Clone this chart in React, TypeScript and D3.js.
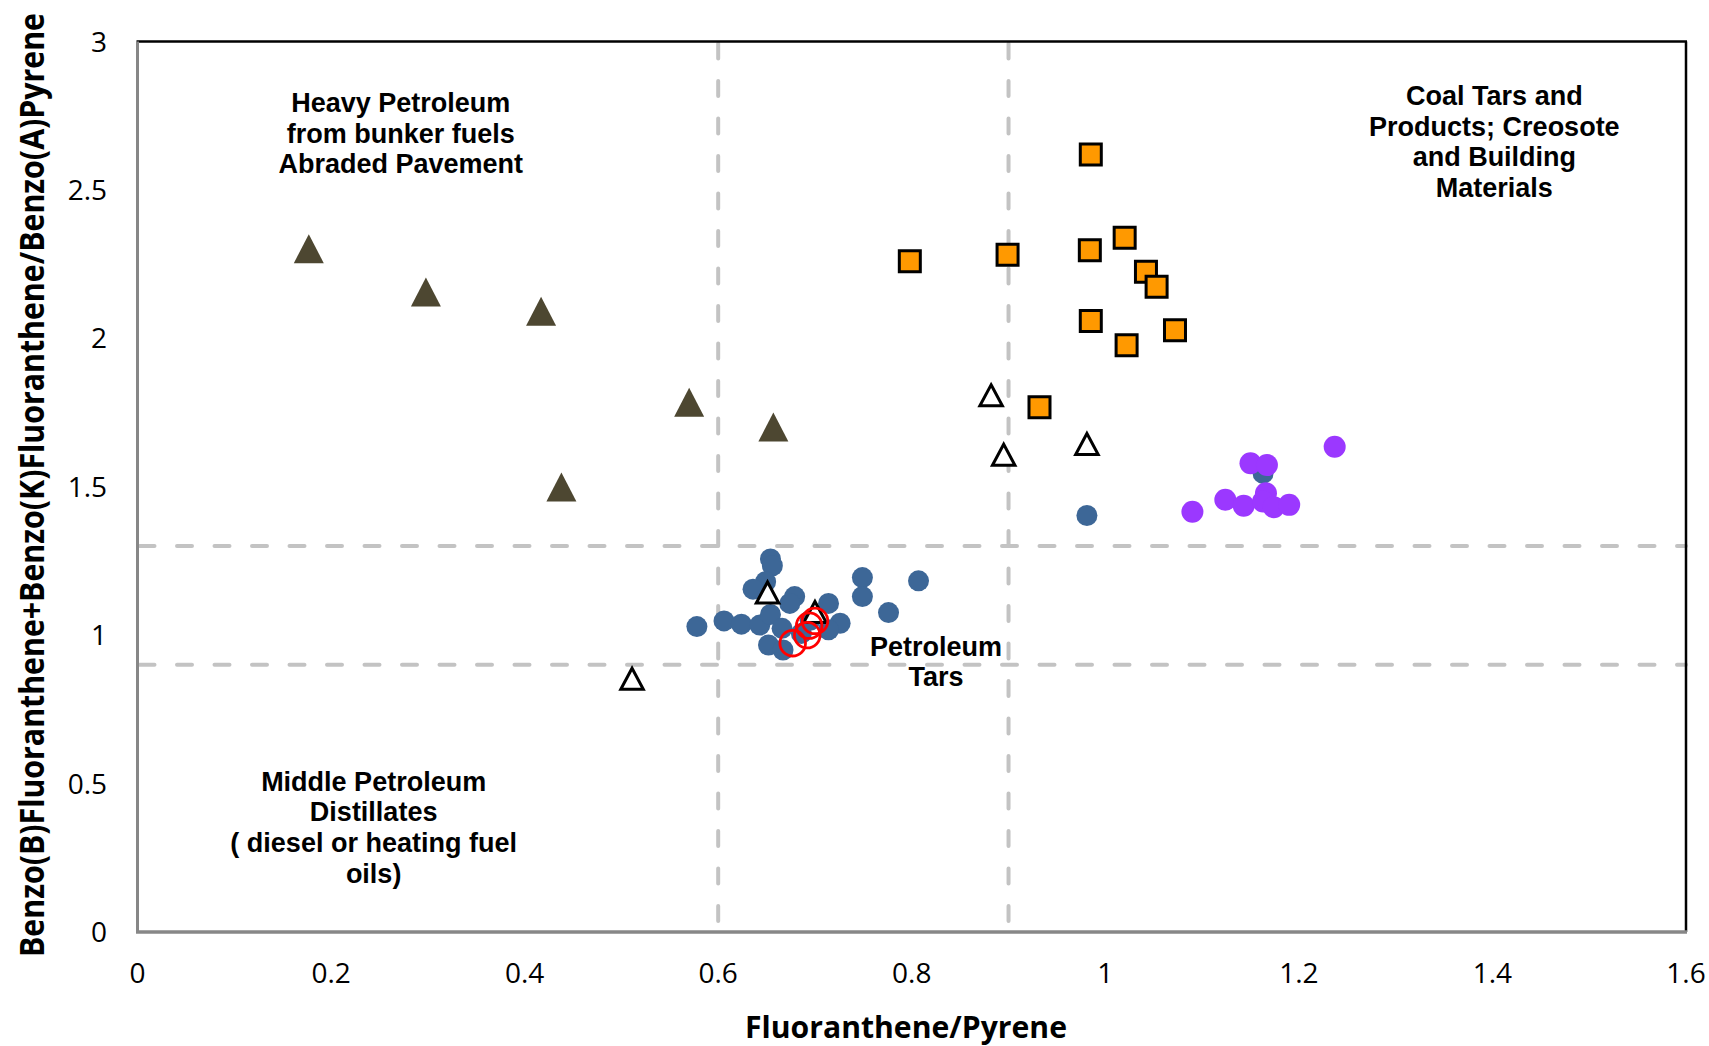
import React from "react";
import * as d3 from "d3";

// Axis ticks
const xTicks = [0, 0.2, 0.4, 0.6, 0.8, 1, 1.2, 1.4, 1.6];
const yTicks = [0, 0.5, 1, 1.5, 2, 2.5, 3];
const xTickLabels = ["0", "0.2", "0.4", "0.6", "0.8", "1", "1.2", "1.4", "1.6"];
const yTickLabels = ["0", "0.5", "1", "1.5", "2", "2.5", "3"];

// Source-class boundaries (dashed guides)
const xGuides = [0.6, 0.9];
const yGuides = [0.9, 1.3];

// [Fluoranthene/Pyrene, BbF+BkF/BaP]
const heavyPetroleum: [number, number][] = [
  [0.177, 2.302],
  [0.298, 2.156],
  [0.417, 2.091],
  [0.57, 1.785],
  [0.657, 1.701],
  [0.438, 1.499],
];

const coalTars: [number, number][] = [
  [0.985, 2.619],
  [0.798, 2.26],
  [0.899, 2.282],
  [0.984, 2.297],
  [1.02, 2.339],
  [1.042, 2.224],
  [1.053, 2.174],
  [0.985, 2.058],
  [1.022, 1.977],
  [1.072, 2.027],
  [0.932, 1.768],
];

const blueSamples: [number, number][] = [
  [0.578, 1.029],
  [0.606, 1.048],
  [0.624, 1.037],
  [0.643, 1.034],
  [0.654, 1.257],
  [0.656, 1.234],
  [0.649, 1.18],
  [0.636, 1.155],
  [0.654, 1.07],
  [0.652, 0.967],
  [0.667, 0.95],
  [0.679, 1.13],
  [0.674, 1.107],
  [0.666, 1.023],
  [0.686, 1.006],
  [0.695, 1.05],
  [0.714, 1.107],
  [0.726, 1.04],
  [0.714, 1.018],
  [0.749, 1.194],
  [0.749, 1.13],
  [0.776, 1.076],
  [0.807, 1.183],
  [0.981, 1.403],
  [1.163, 1.545],
];

const openTriangles: [number, number][] = [
  [0.882, 1.808],
  [0.895, 1.608],
  [0.981, 1.644],
  [0.651, 1.144],
  [0.511, 0.853],
  [0.7, 1.078],
];

const purpleSamples: [number, number][] = [
  [1.237, 1.635],
  [1.15, 1.579],
  [1.167, 1.573],
  [1.09, 1.416],
  [1.124, 1.456],
  [1.143, 1.436],
  [1.166, 1.478],
  [1.163, 1.45],
  [1.174, 1.431],
  [1.19, 1.439],
];

const redRings: [number, number][] = [
  [0.677, 0.973],
  [0.692, 1.0],
  [0.694, 1.032],
  [0.7, 1.048],
];

// Region labels: [text lines, x, y of first baseline]
const regionLabels: { lines: string[]; x: number; y: number }[] = [
  { lines: ["Heavy Petroleum", "from bunker fuels", "Abraded Pavement"], x: 0.272, y: 2.763 },
  { lines: ["Coal Tars and", "Products; Creosote", "and Building", "Materials"], x: 1.402, y: 2.786 },
  { lines: ["Middle Petroleum", "Distillates", "( diesel or heating fuel", "oils)"], x: 0.244, y: 0.476 },
  { lines: ["Petroleum", "Tars"], x: 0.825, y: 0.931 },
];

const W = 1709;
const H = 1046;
const left = 137.5;
const right = 1686;
const top = 41.5;
const bottom = 932;

const x = d3.scaleLinear().domain([0, 1.6]).range([left, right]);
const y = d3.scaleLinear().domain([0, 3]).range([bottom, top]);

// Triangle symbol centred on its bounding box
const boxTriangle = (w: number, h: number) => ({
  draw(ctx: any) {
    ctx.moveTo(0, -h / 2);
    ctx.lineTo(w / 2, h / 2);
    ctx.lineTo(-w / 2, h / 2);
    ctx.closePath();
  },
});

const solidTriPath = d3.symbol().type(boxTriangle(30, 29) as any)() as string;
const openTriPath = d3.symbol().type(boxTriangle(22.5, 21) as any)() as string;
const squarePath = d3.symbol().type(d3.symbolSquare).size(21 * 21)() as string;

const annoFont = "'Liberation Sans', Arial, sans-serif";
const tickFont = "'Open Sans', 'Noto Sans', sans-serif";

export default function App() {
  return (
    <svg
      width={W}
      height={H}
      viewBox={`0 0 ${W} ${H}`}
      style={{ position: "fixed", left: 0, top: 0, background: "#fff" }}
    >
      <rect x={0} y={0} width={W} height={H} fill="#fff" />

      {/* dashed guides */}
      {xGuides.map((g) => (
        <line
          key={`xg${g}`}
          x1={x(g)}
          x2={x(g)}
          y1={top + 2}
          y2={bottom + 1}
          stroke="#c3c3c3"
          strokeWidth={4}
          strokeDasharray="15 22.5"
          strokeLinecap="round"
        />
      ))}
      {yGuides.map((g) => (
        <line
          key={`yg${g}`}
          x1={left + 2}
          x2={right}
          y1={y(g)}
          y2={y(g)}
          stroke="#c3c3c3"
          strokeWidth={4}
          strokeDasharray="15 22.5"
          strokeLinecap="round"
        />
      ))}

      {/* plot frame */}
      <line x1={left - 1} x2={right + 1} y1={top} y2={top} stroke="#000" strokeWidth={2.5} />
      <line x1={right} x2={right} y1={top} y2={bottom} stroke="#000" strokeWidth={2.5} />
      <line x1={left} x2={left} y1={top} y2={bottom} stroke="#878787" strokeWidth={3} />
      <line x1={left - 1.5} x2={right + 1} y1={bottom} y2={bottom} stroke="#878787" strokeWidth={3.5} />

      {/* tick labels */}
      {xTicks.map((t, i) => (
        <text
          key={`xt${t}`}
          x={x(t)}
          y={983}
          textAnchor="middle"
          fontFamily={tickFont}
          fontSize={28}
          fill="#000"
        >
          {xTickLabels[i]}
        </text>
      ))}
      {yTicks.map((t, i) => (
        <text
          key={`yt${t}`}
          x={107}
          y={y(t) + 10}
          textAnchor="end"
          fontFamily={tickFont}
          fontSize={28}
          fill="#000"
        >
          {yTickLabels[i]}
        </text>
      ))}

      {/* axis titles */}
      <text
        x={906}
        y={1038}
        textAnchor="middle"
        fontFamily={tickFont}
        fontWeight="bold"
        fontSize={30}
        textLength={322}
        lengthAdjust="spacingAndGlyphs"
        fill="#000"
      >
        Fluoranthene/Pyrene
      </text>
      <text
        transform={`translate(44,485) rotate(-90) scale(1,1.22)`}
        textAnchor="middle"
        fontFamily={tickFont}
        fontWeight="bold"
        fontSize={28}
        textLength={944}
        lengthAdjust="spacingAndGlyphs"
        fill="#000"
      >
        Benzo(B)Fluoranthene+Benzo(K)Fluoranthene/Benzo(A)Pyrene
      </text>

      {/* region labels */}
      {regionLabels.map((r, i) => (
        <text
          key={`rl${i}`}
          x={x(r.x)}
          y={y(r.y)}
          textAnchor="middle"
          fontFamily={annoFont}
          fontWeight="bold"
          fontSize={27}
          fill="#000"
        >
          {r.lines.map((ln, j) => (
            <tspan key={j} x={x(r.x)} dy={j === 0 ? 0 : 30.7}>
              {ln}
            </tspan>
          ))}
        </text>
      ))}

      {/* heavy petroleum: solid olive triangles */}
      {heavyPetroleum.map((d, i) => (
        <path key={`hp${i}`} d={solidTriPath} transform={`translate(${x(d[0])},${y(d[1])})`} fill="#4d4731" />
      ))}

      {/* coal tars: orange squares */}
      {coalTars.map((d, i) => (
        <path
          key={`ct${i}`}
          d={squarePath}
          transform={`translate(${x(d[0])},${y(d[1])})`}
          fill="#ff9900"
          stroke="#000"
          strokeWidth={3}
        />
      ))}

      {/* blue samples */}
      {blueSamples.map((d, i) => (
        <circle key={`bs${i}`} cx={x(d[0])} cy={y(d[1])} r={10.5} fill="#3d6797" />
      ))}

      {/* purple samples */}
      {purpleSamples.map((d, i) => (
        <circle key={`ps${i}`} cx={x(d[0])} cy={y(d[1])} r={11} fill="#9b38ff" />
      ))}

      {/* open triangles */}
      {openTriangles.map((d, i) => (
        <path
          key={`ot${i}`}
          d={openTriPath}
          transform={`translate(${x(d[0])},${y(d[1])})`}
          fill="#fff"
          stroke="#000"
          strokeWidth={3}
          strokeLinejoin="miter"
        />
      ))}

      {/* red rings */}
      {redRings.map((d, i) => (
        <circle
          key={`rr${i}`}
          cx={x(d[0])}
          cy={y(d[1])}
          r={12.8}
          fill="none"
          stroke="#ff0000"
          strokeWidth={2.8}
        />
      ))}
    </svg>
  );
}
